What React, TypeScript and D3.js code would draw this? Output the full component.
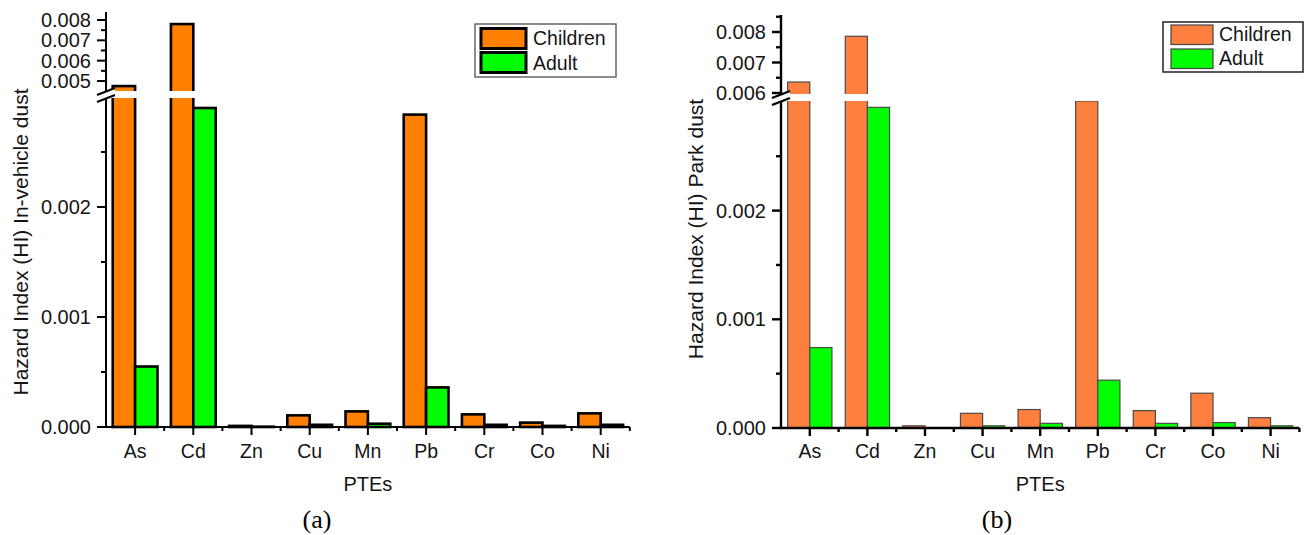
import React from "react";
import * as d3 from "d3";

// ---------- data ----------
const categories = ["As", "Cd", "Zn", "Cu", "Mn", "Pb", "Cr", "Co", "Ni"];
const seriesNames = ["Children", "Adult"];

const vehicleChildren = [0.00475, 0.0078, 0.00001, 0.000106, 0.000142, 0.00284, 0.000115, 0.00004, 0.000124];
const vehicleAdult = [0.00055, 0.0029, 0.000003, 0.00002, 0.00003, 0.00036, 0.00002, 0.00001, 0.00002];

const parkChildren = [0.00636, 0.00786, 0.00002, 0.000135, 0.00017, 0.0045, 0.00016, 0.00032, 0.000095];
const parkAdult = [0.00074, 0.00295, 0.000003, 0.00002, 0.000043, 0.00044, 0.000043, 0.00005, 0.00002];

const lowerTicks = [0, 0.001, 0.002];
const lowerMinorTicks = [0.0005, 0.0015, 0.0025];
const vehicleUpperTicks = [0.005, 0.006, 0.007, 0.008];
const vehicleUpperMinor = [0.0055, 0.0065, 0.0075];
const parkUpperTicks = [0.006, 0.007, 0.008];
const parkUpperMinor = [0.0065, 0.0075, 0.0085];

const FONT = "'Liberation Sans', Arial, sans-serif";

type PanelCfg = {
  children: number[];
  adult: number[];
  ax: number;
  step: number;
  y0: number;
  lowPx: [number, number];
  lowTop: number;
  upDomain: [number, number];
  upRange: [number, number];
  upTop: number;
  upBottom: number;
  upperTicks: number[];
  upperMinor: number[];
  colors: [string, string];
  barStroke: string;
  barStrokeW: number;
  axisW: number;
  yLabel: string;
  yLabelX: number;
  yLabelY: number;
  legend: { x: number; y: number; w: number; h: number; sx: number; sw: number; sy: number[]; sh: number; tx: number; ty: number[]; stroke: string; sStroke: string; sStrokeW: number };
  panelLabel: string;
  panelLabelX: number;
};

function Panel({ c }: { c: PanelCfg }) {
  const n = categories.length;
  const x = d3.scaleBand<string>().domain(categories).range([c.ax, c.ax + n * c.step]).padding(0);
  const sub = d3.scaleBand<string>().domain(seriesNames).range([0, c.step]).paddingInner(0).paddingOuter(0.3);
  const low = d3.scaleLinear().domain([0, 0.002]).range(c.lowPx);
  const up = d3.scaleLinear().domain(c.upDomain).range(c.upRange);
  const lowMax = low.invert(c.lowTop);
  const upMin = up.invert(c.upBottom);
  const yv = (v: number) => (v <= lowMax ? low(v) : v >= upMin ? up(v) : c.lowTop);
  const xEnd = c.ax + n * c.step;
  const series = [c.children, c.adult];

  return (
    <g fontFamily={FONT}>
      {categories.map((cat, i) =>
        series.map((s, k) => {
          const v = s[i];
          const yTop = yv(v);
          return (
            <rect
              key={cat + k}
              x={(x(cat) as number) + (sub(seriesNames[k]) as number)}
              y={yTop}
              width={sub.bandwidth()}
              height={Math.max(0, c.y0 - yTop)}
              fill={c.colors[k]}
              stroke={c.barStroke}
              strokeWidth={c.barStrokeW}
            />
          );
        })
      )}
      <rect x={c.ax + 3} y={c.upBottom} width={xEnd - c.ax} height={c.lowTop - c.upBottom} fill="#fff" />
      <line x1={c.ax} x2={c.ax} y1={c.upTop} y2={c.upBottom} stroke="#000" strokeWidth={c.axisW} />
      <line x1={c.ax} x2={c.ax} y1={c.lowTop} y2={c.y0} stroke="#000" strokeWidth={c.axisW} />
      <polygon
        points={`${c.ax - 9},${c.upBottom + 4} ${c.ax + 9},${c.upBottom - 3} ${c.ax + 9},${c.lowTop - 3} ${c.ax - 9},${c.lowTop + 4}`}
        fill="#fff"
      />
      <line x1={c.ax - 9} y1={c.upBottom + 4} x2={c.ax + 9} y2={c.upBottom - 3} stroke="#000" strokeWidth={c.axisW} />
      <line x1={c.ax - 9} y1={c.lowTop + 4} x2={c.ax + 9} y2={c.lowTop - 3} stroke="#000" strokeWidth={c.axisW} />
      {lowerTicks.map((t) => (
        <g key={"lt" + t}>
          <line x1={c.ax - 9} x2={c.ax} y1={low(t)} y2={low(t)} stroke="#000" strokeWidth={c.axisW} />
          <text x={c.ax - 15} y={low(t)} dy="0.35em" textAnchor="end" fontSize={20} fill="#151515">
            {d3.format(".3f")(t)}
          </text>
        </g>
      ))}
      {lowerMinorTicks.map((t) => (
        <line key={"lm" + t} x1={c.ax - 5} x2={c.ax} y1={low(t)} y2={low(t)} stroke="#000" strokeWidth={c.axisW} />
      ))}
      {c.upperTicks.map((t) => (
        <g key={"ut" + t}>
          <line x1={c.ax - 9} x2={c.ax} y1={up(t)} y2={up(t)} stroke="#000" strokeWidth={c.axisW} />
          <text x={c.ax - 15} y={up(t)} dy="0.35em" textAnchor="end" fontSize={20} fill="#151515">
            {d3.format(".3f")(t)}
          </text>
        </g>
      ))}
      {c.upperMinor.map((t) => (
        <line key={"um" + t} x1={c.ax - 5} x2={c.ax} y1={up(t)} y2={up(t)} stroke="#000" strokeWidth={c.axisW} />
      ))}
      <line x1={c.ax - c.axisW / 2} x2={xEnd} y1={c.y0} y2={c.y0} stroke="#000" strokeWidth={c.axisW} />
      {categories.map((cat) => {
        const cx = (x(cat) as number) + x.bandwidth() / 2;
        return (
          <g key={"xt" + cat}>
            <line x1={cx} x2={cx} y1={c.y0} y2={c.y0 + 8} stroke="#000" strokeWidth={c.axisW} />
            <text x={cx} y={458} textAnchor="middle" fontSize={19.5} fill="#151515">
              {cat}
            </text>
          </g>
        );
      })}
      {categories.slice(1).map((cat) => {
        const bx = x(cat) as number;
        return <line key={"xb" + cat} x1={bx} x2={bx} y1={c.y0} y2={c.y0 + 4} stroke="#000" strokeWidth={c.axisW} />;
      })}
      <line x1={xEnd} x2={xEnd} y1={c.y0} y2={c.y0 + 4} stroke="#000" strokeWidth={c.axisW} />
      <text x={(c.ax + xEnd) / 2} y={491} textAnchor="middle" fontSize={20} fill="#151515">
        PTEs
      </text>
      <text
        transform={`translate(${c.yLabelX},${c.yLabelY}) rotate(-90)`}
        textAnchor="middle"
        fontSize={21}
        fill="#151515"
      >
        {c.yLabel}
      </text>
      <rect x={c.legend.x} y={c.legend.y} width={c.legend.w} height={c.legend.h} fill="#fff" stroke={c.legend.stroke} strokeWidth={1.5} />
      {seriesNames.map((s, k) => (
        <g key={"lg" + s}>
          <rect
            x={c.legend.sx}
            y={c.legend.sy[k]}
            width={c.legend.sw}
            height={c.legend.sh}
            fill={c.colors[k]}
            stroke={c.legend.sStroke}
            strokeWidth={c.legend.sStrokeW}
          />
          <text x={c.legend.tx} y={c.legend.ty[k]} fontSize={19.5} fill="#151515">
            {s}
          </text>
        </g>
      ))}
      <text x={c.panelLabelX} y={528} textAnchor="middle" fontSize={26} fontFamily="'Liberation Serif', 'Times New Roman', serif" fill="#000">
        {c.panelLabel}
      </text>
    </g>
  );
}

const left: PanelCfg = {
  children: vehicleChildren,
  adult: vehicleAdult,
  ax: 106,
  step: 58.2,
  y0: 427,
  lowPx: [427, 207],
  lowTop: 98,
  upDomain: [0.005, 0.008],
  upRange: [81, 20],
  upTop: 12,
  upBottom: 91,
  upperTicks: vehicleUpperTicks,
  upperMinor: vehicleUpperMinor,
  colors: ["#FF8000", "#00FF00"],
  barStroke: "#000",
  barStrokeW: 2.6,
  axisW: 2,
  yLabel: "Hazard Index (HI) In-vehicle dust",
  yLabelX: 28,
  yLabelY: 242,
  legend: { x: 475, y: 24, w: 141, h: 53, sx: 481, sw: 45, sy: [28.5, 52.5], sh: 20, tx: 533, ty: [45, 70], stroke: "#666", sStroke: "#000", sStrokeW: 3 },
  panelLabel: "(a)",
  panelLabelX: 317,
};

const right: PanelCfg = {
  children: parkChildren,
  adult: parkAdult,
  ax: 781,
  step: 57.6,
  y0: 428,
  lowPx: [428, 210.6],
  lowTop: 101,
  upDomain: [0.006, 0.008],
  upRange: [93, 32],
  upTop: 15,
  upBottom: 94,
  upperTicks: parkUpperTicks,
  upperMinor: parkUpperMinor,
  colors: ["#FF7F3F", "#00FF00"],
  barStroke: "#4a4a4a",
  barStrokeW: 1.2,
  axisW: 2.4,
  yLabel: "Hazard Index (HI) Park dust",
  yLabelX: 703,
  yLabelY: 229,
  legend: { x: 1163, y: 22, w: 140, h: 50, sx: 1171, sw: 42, sy: [25, 49], sh: 19.5, tx: 1219, ty: [41, 65], stroke: "#222", sStroke: "#444", sStrokeW: 1.2 },
  panelLabel: "(b)",
  panelLabelX: 997,
};

export default function App() {
  return (
    <div style={{ position: "absolute", left: 0, top: 0 }}>
      <svg width={1311} height={535} style={{ display: "block", background: "#fff" }}>
        <rect width={1311} height={535} fill="#fff" />
        <Panel c={left} />
        <Panel c={right} />
      </svg>
    </div>
  );
}
